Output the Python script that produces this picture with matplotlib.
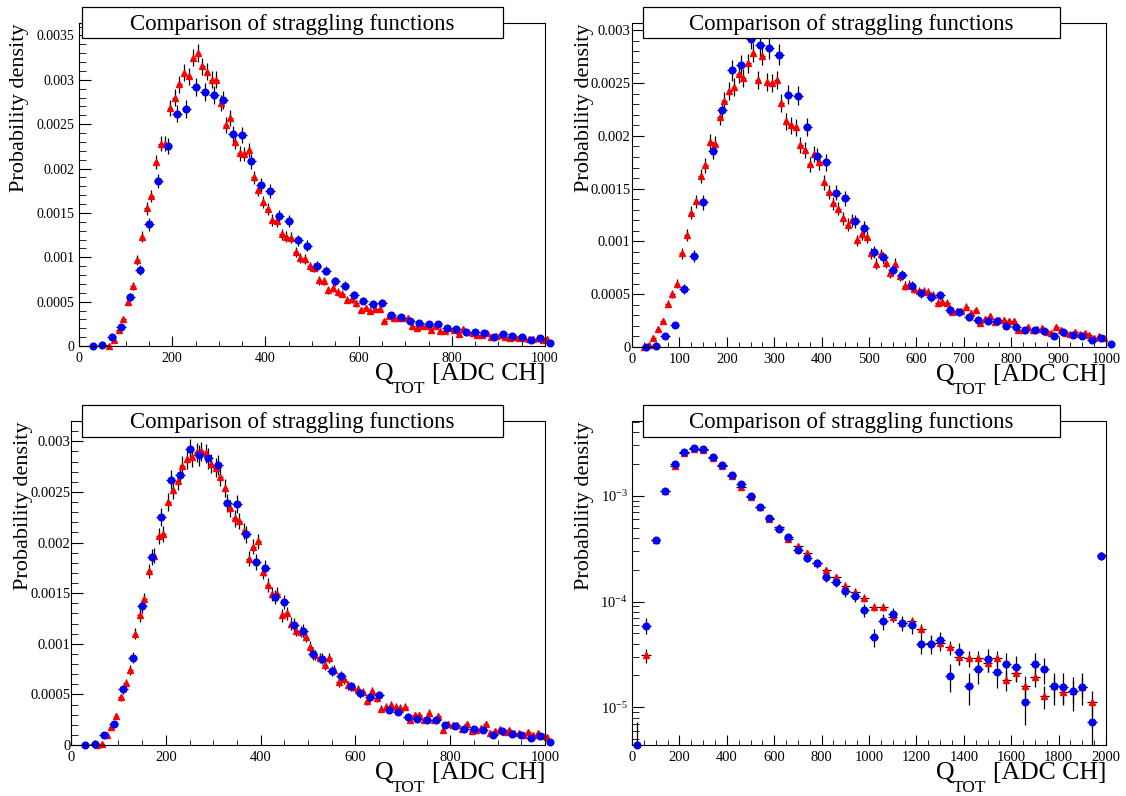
import matplotlib
matplotlib.use('Agg')
import matplotlib.pyplot as plt
import numpy as np
from matplotlib.patches import Rectangle
from matplotlib.ticker import MultipleLocator, FuncFormatter, LogLocator, NullFormatter, LogFormatterMathtext

plt.rcParams['font.family'] = ['Liberation Serif', 'DejaVu Serif']
plt.rcParams['mathtext.fontset'] = 'custom'
plt.rcParams['mathtext.rm'] = 'Liberation Serif'
plt.rcParams['mathtext.it'] = 'Liberation Serif:italic'
plt.rcParams['axes.linewidth'] = 0.8

title = 'Comparison of straggling functions'
ylab = 'Probability density'
xlab_q, xlab_sub, xlab_unit = 'Q', 'TOT', '[ADC CH]'

# blue histogram, 20 channel bins (same in the three linear panels)
blue_x = np.arange(30, 1011, 20)
blue_y = [0.0, 0.00001, 0.0001, 0.00021, 0.00055, 0.00086, 0.00137, 0.00186, 0.00225, 0.00262,
          0.00267, 0.00292, 0.00286, 0.00283, 0.00277, 0.00239, 0.00238, 0.00208, 0.00181, 0.00175,
          0.00146, 0.00141, 0.00119, 0.00113, 0.0009, 0.00085, 0.00073, 0.00068, 0.00058, 0.00051,
          0.00047, 0.00049, 0.00035, 0.00033, 0.00028, 0.00026, 0.00025, 0.00025, 0.0002, 0.00019,
          0.00016, 0.00016, 0.00015, 0.0001, 0.00014, 0.00011, 0.0001, 0.00007, 0.00009, 0.00003]

# red histograms, 10 channel bins
red1_x = np.arange(65, 1006, 10)
red1_y = [0.0, 0.00007, 0.00018, 0.0003, 0.0005, 0.00068, 0.00097, 0.00123, 0.00155, 0.00169,
          0.00207, 0.00228, 0.00228, 0.00268, 0.0028, 0.00295, 0.00308, 0.00304, 0.00325, 0.0033,
          0.00315, 0.00309, 0.003, 0.003, 0.00274, 0.00249, 0.00257, 0.0023, 0.00217, 0.00216,
          0.00221, 0.0019, 0.00176, 0.00162, 0.00154, 0.00142, 0.00141, 0.00126, 0.00123, 0.00122,
          0.00106, 0.00099, 0.00098, 0.0009, 0.00088, 0.00074, 0.00073, 0.00063, 0.00065, 0.00061,
          0.00059, 0.00052, 0.00053, 0.00048, 0.00041, 0.00043, 0.0004, 0.00042, 0.00042, 0.00028,
          0.00034, 0.00031, 0.00031, 0.00032, 0.00031, 0.00022, 0.0002, 0.00022, 0.00023, 0.00018,
          0.00022, 0.00017, 0.00017, 0.0002, 0.00018, 0.00014, 0.00019, 0.00016, 0.00015, 0.00012,
          0.00012, 0.00015, 0.0001, 0.00011, 0.00012, 0.0001, 0.00009, 0.0001, 0.00009, 0.00009,
          0.00008, 0.00008, 0.00009, 0.00007, 0.00008]

red2_x = np.arange(25, 996, 10)
red2_y = [0.0, 0.00002, 0.00009, 0.00017, 0.00025, 0.00041, 0.0005, 0.0006, 0.00089, 0.00106,
          0.00127, 0.00138, 0.00162, 0.00172, 0.00194, 0.00192, 0.00218, 0.00233, 0.00243, 0.00246,
          0.00259, 0.00255, 0.00269, 0.00279, 0.00253, 0.00276, 0.00251, 0.0025, 0.00253, 0.00231,
          0.00214, 0.0021, 0.00208, 0.00191, 0.00187, 0.00173, 0.00183, 0.00175, 0.00156, 0.00147,
          0.00136, 0.00131, 0.00122, 0.00116, 0.0012, 0.00101, 0.00107, 0.00104, 0.00089, 0.00079,
          0.00088, 0.0008, 0.0007, 0.00079, 0.00067, 0.00058, 0.00059, 0.00055, 0.00053, 0.00053,
          0.00052, 0.00049, 0.00042, 0.00043, 0.00042, 0.00033, 0.00034, 0.00034, 0.00038, 0.00032,
          0.00035, 0.00023, 0.00027, 0.00029, 0.00024, 0.00026, 0.00026, 0.00025, 0.00025, 0.00016,
          0.00016, 0.00019, 0.00016, 0.00017, 0.00018, 0.00014, 0.00013, 0.00019, 0.00016, 0.00013,
          0.00012, 0.00014, 0.00012, 0.00013, 0.00011, 0.00009, 0.0001, 0.00009]

red3_x = np.arange(55, 1006, 10)
red3_y = [0.0, 0.00001, 0.0001, 0.00018, 0.00029, 0.00047, 0.00061, 0.00074, 0.0011, 0.00128,
          0.00144, 0.00172, 0.00187, 0.00206, 0.00208, 0.0024, 0.00252, 0.00261, 0.00276, 0.00282,
          0.00284, 0.00289, 0.0029, 0.00288, 0.00278, 0.00274, 0.00265, 0.00254, 0.00234, 0.00224,
          0.00221, 0.00211, 0.00184, 0.00196, 0.00201, 0.00171, 0.00158, 0.00149, 0.00149, 0.00128,
          0.0013, 0.0012, 0.00113, 0.00112, 0.00107, 0.00097, 0.00089, 0.00086, 0.00079, 0.00086,
          0.00074, 0.00062, 0.00065, 0.00059, 0.00057, 0.00055, 0.00052, 0.00043, 0.00053, 0.00046,
          0.00036, 0.00038, 0.0004, 0.00038, 0.00037, 0.00038, 0.00025, 0.0003, 0.0003, 0.00025,
          0.00032, 0.00025, 0.00029, 0.00015, 0.00021, 0.0002, 0.0002, 0.00016, 0.00021, 0.00014,
          0.00015, 0.00017, 0.00021, 0.00012, 0.00014, 0.00016, 0.00013, 0.00015, 0.00012, 0.00012,
          0.0001, 0.00013, 0.0001, 0.00012, 0.00009, 0.00008]

# log panel, 40 channel bins
log_x = np.arange(20, 1981, 40)
log_blue = [4.4e-6, 5.9e-5, 3.8e-4, 1.11e-3, 2.02e-3, 2.61e-3, 2.86e-3, 2.76e-3, 2.34e-3, 1.94e-3,
            1.58e-3, 1.28e-3, 1.0e-3, 7.9e-4, 6.2e-4, 4.9e-4, 4.1e-4, 3.09e-4, 2.58e-4, 2.3e-4,
            1.72e-4, 1.54e-4, 1.26e-4, 1.13e-4, 8.3e-5, 4.6e-5, 6.5e-5, 7.6e-5, 6.3e-5, 6.0e-5,
            4.0e-5, 4.0e-5, 4.3e-5, 1.98e-5, 3.3e-5, 1.59e-5, 2.3e-5, 2.88e-5, 2.14e-5, 2.56e-5,
            2.42e-5, 1.13e-5, 2.56e-5, 2.28e-5, 1.59e-5, 1.57e-5, 1.43e-5, 1.57e-5, 7.2e-6, 2.71e-4]
log_red = [np.nan, 3.1e-5, 3.8e-4, 1.1e-3, 1.92e-3, 2.55e-3, 2.8e-3, 2.7e-3, 2.3e-3, 1.93e-3,
           1.53e-3, 1.2e-3, 9.8e-4, 7.8e-4, 6.1e-4, 5.1e-4, 3.9e-4, 3.37e-4, 2.89e-4, 2.3e-4,
           1.99e-4, 1.72e-4, 1.41e-4, 1.24e-4, 1.09e-4, 8.9e-5, 8.9e-5, 7.2e-5, 6.3e-5, 6.5e-5,
           5.5e-5, 4.1e-5, 4.1e-5, 3.7e-5, 3.0e-5, 2.9e-5, 2.95e-5, 2.6e-5, 2.95e-5, 1.81e-5,
           2.13e-5, 1.6e-5, 1.95e-5, 1.28e-5, 1.6e-5, 1.4e-5, 1.43e-5, 1.57e-5, 1.13e-5, 2.75e-4]

# statistical error scale (1 / (entries * bin width))
k_blue20 = 3.5e-6
k_red10 = 3.0e-6
k_blue40 = 1.76e-6
k_red40 = 8e-7

W, H = 1126, 796
fig = plt.figure(figsize=(W / 100, H / 100), dpi=100)
renderer = fig.canvas.get_renderer()


def make_axes(left, top, right, bottom):
    return fig.add_axes([left / W, 1 - bottom / H, (right - left) / W, (bottom - top) / H])


def draw(ax, x, y, halfw, k, marker, color, ms):
    y = np.asarray(y, float)
    err = np.sqrt(np.nan_to_num(y) * k)
    c = ax.errorbar(x, y, xerr=halfw, yerr=err, fmt=marker, color=color, ms=ms,
                    mec=color, ecolor='black', elinewidth=0.9, capsize=0)
    c[0].set_clip_on(False)


def xlabel(ax):
    kw = dict(xy=(1, 0), xycoords='axes fraction', textcoords='offset pixels',
              ha='right', va='baseline')
    t1 = ax.annotate(xlab_unit, xytext=(0, -34), fontsize=18.5, **kw)
    w1 = t1.get_window_extent(renderer).width + 6
    t2 = ax.annotate(xlab_sub, xytext=(-w1, -47), fontsize=12.5, **kw)
    w2 = t2.get_window_extent(renderer).width
    ax.annotate(xlab_q, xytext=(-w1 - w2 + 1, -34), fontsize=18.5, **kw)


def decorate(ax, left, right, ylab_off, ypad, lsize):
    ax.tick_params(which='both', direction='in', top=False, right=False, labelsize=lsize)
    ax.tick_params(axis='y', which='major', length=8.6, pad=ypad)
    ax.tick_params(axis='y', which='minor', length=5)
    ax.tick_params(axis='x', which='major', length=7.2, pad=4.3)
    ax.tick_params(axis='x', which='minor', length=3.6)
    ax.text(ylab_off / (right - left), 1.0, ylab, rotation=90, ha='center', va='top',
            fontsize=16, transform=ax.transAxes)
    xlabel(ax)


def title_box(left, top, right, bottom):
    fig.add_artist(Rectangle((left / W, 1 - bottom / H), (right - left) / W, (bottom - top) / H,
                             transform=fig.transFigure, facecolor='white', edgecolor='black',
                             linewidth=0.9, zorder=10))
    fig.text((left + right) / 2 / W, 1 - (top + 23) / H, title, ha='center', va='baseline',
             fontsize=16.5, zorder=11)


lin_fmt = FuncFormatter(lambda v, p: '%g' % round(v, 6))

# top left
ax1 = make_axes(79, 23, 545, 346)
draw(ax1, red1_x, red1_y, 5, k_red10, '^', 'red', 4)
draw(ax1, blue_x, blue_y, 10, k_blue20, 'o', 'blue', 4.8)
ax1.set_xlim(0, 1000)
ax1.set_ylim(0, 0.00364)
ax1.xaxis.set_major_locator(MultipleLocator(200))
ax1.xaxis.set_minor_locator(MultipleLocator(50))
ax1.yaxis.set_major_locator(MultipleLocator(0.0005))
ax1.yaxis.set_minor_locator(MultipleLocator(0.0001))
ax1.yaxis.set_major_formatter(lin_fmt)
decorate(ax1, 79, 545, -59, 3.5, 10)
title_box(82, 7, 503, 38)

# top right
ax2 = make_axes(632, 23, 1106, 347)
draw(ax2, red2_x, red2_y, 5, k_red10, '^', 'red', 4)
draw(ax2, blue_x, blue_y, 10, k_blue20, 'o', 'blue', 4.8)
ax2.set_xlim(0, 1000)
ax2.set_ylim(0, 0.00307)
ax2.xaxis.set_major_locator(MultipleLocator(100))
ax2.xaxis.set_minor_locator(MultipleLocator(25))
ax2.yaxis.set_major_locator(MultipleLocator(0.0005))
ax2.yaxis.set_minor_locator(MultipleLocator(0.0001))
ax2.yaxis.set_major_formatter(lin_fmt)
decorate(ax2, 632, 1106, -48, 1, 10.5)
title_box(643, 7, 1060, 38)

# bottom left
ax3 = make_axes(71, 421, 545, 745)
draw(ax3, red3_x, red3_y, 5, k_red10, '^', 'red', 4)
draw(ax3, blue_x, blue_y, 10, k_blue20, 'o', 'blue', 4.8)
ax3.set_xlim(0, 1000)
ax3.set_ylim(0, 0.0032)
ax3.xaxis.set_major_locator(MultipleLocator(200))
ax3.xaxis.set_minor_locator(MultipleLocator(50))
ax3.yaxis.set_major_locator(MultipleLocator(0.0005))
ax3.yaxis.set_minor_locator(MultipleLocator(0.0001))
ax3.yaxis.set_major_formatter(lin_fmt)
decorate(ax3, 71, 545, -47, 0.3, 10.5)
title_box(82, 405, 503, 437)

# bottom right, log scale
ax4 = make_axes(632, 421, 1106, 745)
ax4.set_yscale('log')
draw(ax4, log_x, log_red, 20, k_red40, '^', 'red', 4)
draw(ax4, log_x, log_blue, 20, k_blue40, 'o', 'blue', 4.8)
ax4.set_xlim(0, 2000)
ax4.set_ylim(4.4e-6, 5.1e-3)
ax4.xaxis.set_major_locator(MultipleLocator(200))
ax4.xaxis.set_minor_locator(MultipleLocator(50))
ax4.yaxis.set_major_locator(LogLocator(base=10))
ax4.yaxis.set_minor_locator(LogLocator(base=10, subs=np.arange(2, 10)))
ax4.yaxis.set_major_formatter(LogFormatterMathtext())
ax4.yaxis.set_minor_formatter(NullFormatter())
decorate(ax4, 632, 1106, -47, 3, 10.5)
title_box(643, 405, 1060, 437)

fig.savefig('out.png', dpi=100)
